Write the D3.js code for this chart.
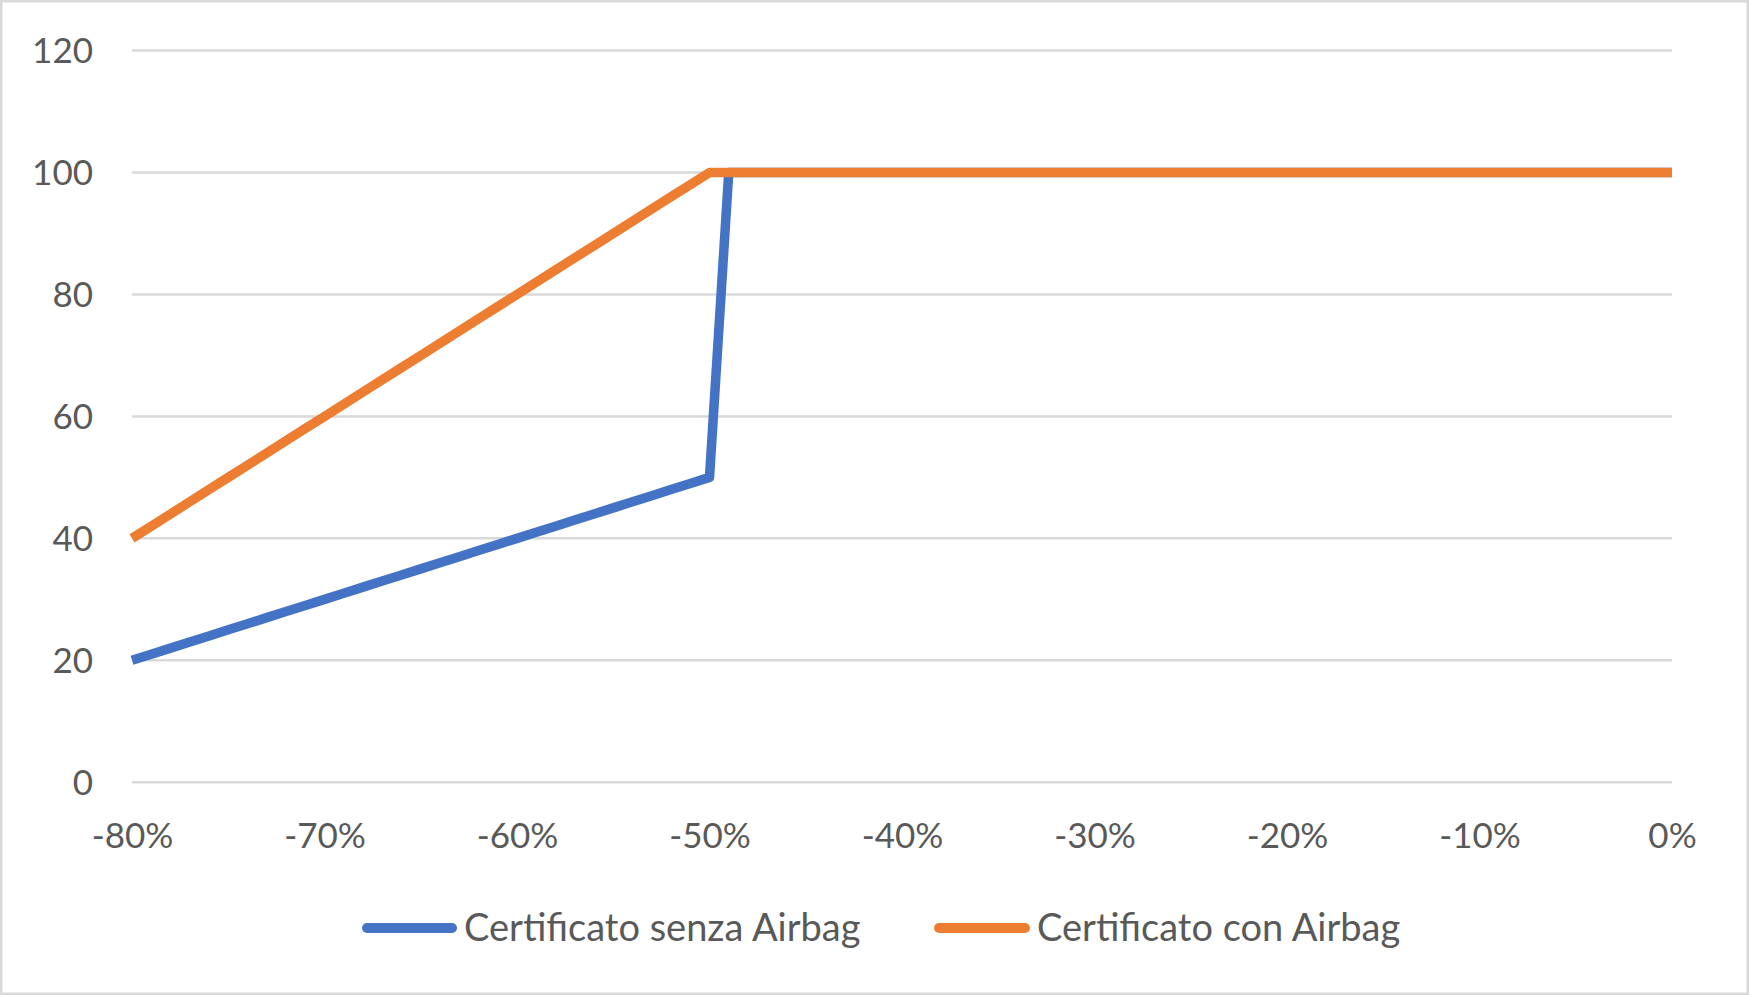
<!DOCTYPE html>
<html>
<head>
<meta charset="utf-8">
<script src="https://cdn.jsdelivr.net/npm/d3@7"></script>
<style>
  html, body { margin: 0; padding: 0; background: #fff; }
  svg { display: block; }
  text { font-family: Lato, "Open Sans", sans-serif; fill: #595959; }
</style>
</head>
<body>
<svg id="chart" width="1749" height="995"></svg>
<script>
// x categories (share), 1% steps from -80% to 0%
const xValues = [-80,-79,-78,-77,-76,-75,-74,-73,-72,-71,-70,-69,-68,-67,-66,-65,-64,-63,-62,-61,-60,
  -59,-58,-57,-56,-55,-54,-53,-52,-51,-50,-49,-48,-47,-46,-45,-44,-43,-42,-41,-40,
  -39,-38,-37,-36,-35,-34,-33,-32,-31,-30,-29,-28,-27,-26,-25,-24,-23,-22,-21,-20,
  -19,-18,-17,-16,-15,-14,-13,-12,-11,-10,-9,-8,-7,-6,-5,-4,-3,-2,-1,0];
const senzaAirbag = [20,21,22,23,24,25,26,27,28,29,30,31,32,33,34,35,36,37,38,39,40,
  41,42,43,44,45,46,47,48,49,50,100,100,100,100,100,100,100,100,100,100,
  100,100,100,100,100,100,100,100,100,100,100,100,100,100,100,100,100,100,100,100,
  100,100,100,100,100,100,100,100,100,100,100,100,100,100,100,100,100,100,100,100];
const conAirbag = [40,42,44,46,48,50,52,54,56,58,60,62,64,66,68,70,72,74,76,78,80,
  82,84,86,88,90,92,94,96,98,100,100,100,100,100,100,100,100,100,100,100,
  100,100,100,100,100,100,100,100,100,100,100,100,100,100,100,100,100,100,100,100,
  100,100,100,100,100,100,100,100,100,100,100,100,100,100,100,100,100,100,100,100];
const xTicks = [-80,-70,-60,-50,-40,-30,-20,-10,0];
const yTicks = [0,20,40,60,80,100,120];
const seriesNames = ["Certificato senza Airbag", "Certificato con Airbag"];
const seriesColors = ["#4472C4", "#ED7D31"];

const W = 1749, H = 995;
const svg = d3.select("#chart");

// outer border
svg.append("rect").attr("x", 1.25).attr("y", 1.25).attr("width", W - 2.5).attr("height", H - 2.5)
  .attr("fill", "#fff").attr("stroke", "#d9d9d9").attr("stroke-width", 2.5);

const x = d3.scaleLinear().domain([-80, 0]).range([132, 1672]);
const y = d3.scaleLinear().domain([0, 120]).range([782.3, 50.5]);

// gridlines
svg.append("g").selectAll("line").data(yTicks).join("line")
  .attr("x1", x(-80)).attr("x2", x(0))
  .attr("y1", d => y(d)).attr("y2", d => y(d))
  .attr("stroke", "#d9d9d9").attr("stroke-width", 2.5);

// y axis labels
const yAxis = d3.axisLeft(y).tickValues(yTicks).tickSize(0).tickPadding(0).tickFormat(d3.format("d"));
const gy = svg.append("g").attr("transform", "translate(93,0)").call(yAxis);
gy.select(".domain").remove();
gy.selectAll("text").style("font-family", "Lato, 'Open Sans', sans-serif").style("font-size", "35px")
  .attr("fill", "#595959").attr("dy", "0.35em");

// x axis labels
const xAxis = d3.axisBottom(x).tickValues(xTicks).tickSize(0).tickPadding(0).tickFormat(d => d + "%");
const gx = svg.append("g").attr("transform", "translate(0,836)").call(xAxis);
gx.select(".domain").remove();
gx.selectAll("text").style("font-family", "Lato, 'Open Sans', sans-serif").style("font-size", "35px")
  .attr("fill", "#595959").attr("dy", "0.35em").attr("y", 0);

// lines
const line = d3.line().x(d => x(d[0])).y(d => y(d[1]));
[senzaAirbag, conAirbag].forEach((vals, i) => {
  svg.append("path").datum(xValues.map((xv, j) => [xv, vals[j]]))
    .attr("d", line).attr("fill", "none")
    .attr("stroke", seriesColors[i]).attr("stroke-width", 9.5)
    .attr("stroke-linejoin", "round").attr("stroke-linecap", "butt");
});

// legend
const legendItems = [
  { x1: 362, x2: 457, tx: 464 },
  { x1: 934, x2: 1030, tx: 1037 }
];
const lg = svg.append("g");
legendItems.forEach((it, i) => {
  lg.append("line").attr("x1", it.x1 + 5).attr("x2", it.x2 - 5).attr("y1", 928).attr("y2", 928)
    .attr("stroke", seriesColors[i]).attr("stroke-width", 10).attr("stroke-linecap", "round");
  lg.append("text").attr("x", it.tx).attr("y", 928).attr("dy", "0.35em")
    .style("font-size", "38px").text(seriesNames[i]);
});
</script>
</body>
</html>
